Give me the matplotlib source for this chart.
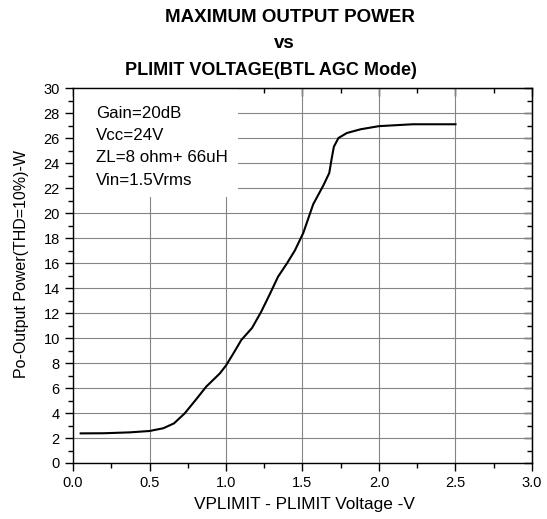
import matplotlib.pyplot as plt
from matplotlib.ticker import MultipleLocator
from matplotlib.patches import Rectangle

plt.rcParams['font.family'] = ['Liberation Sans', 'DejaVu Sans']

# PLIMIT voltage (V) and output power (W)
vplimit = [0.05, 0.20, 0.37, 0.50, 0.59, 0.66, 0.73, 0.81, 0.87, 0.96, 1.00,
           1.05, 1.10, 1.17, 1.23, 1.29, 1.34, 1.40, 1.45, 1.505, 1.57, 1.636,
           1.675, 1.69, 1.705, 1.735, 1.79, 1.88, 2.00, 2.22, 2.50]
power = [2.37, 2.38, 2.45, 2.56, 2.78, 3.17, 3.97, 5.17, 6.10, 7.17, 7.80,
         8.80, 9.84, 10.8, 12.1, 13.6, 14.9, 16.0, 17.0, 18.4, 20.7, 22.2,
         23.2, 24.3, 25.3, 26.0, 26.4, 26.7, 26.95, 27.1, 27.1]

info_lines = ['Gain=20dB', 'Vcc=24V', 'ZL=8 ohm+ 66uH', 'Vin=1.5Vrms']

fig = plt.figure(figsize=(5.47, 5.19), dpi=100)
ax = fig.add_axes([0.1335, 0.1079, 0.839, 0.7225])

ax.plot(vplimit, power, color='black', linewidth=1.5, zorder=3)

ax.set_xlim(0, 3.0)
ax.set_ylim(0, 30)
ax.xaxis.set_major_locator(MultipleLocator(0.5))
ax.xaxis.set_minor_locator(MultipleLocator(0.25))
ax.yaxis.set_major_locator(MultipleLocator(2))
ax.yaxis.set_minor_locator(MultipleLocator(1))
ax.xaxis.set_major_formatter(plt.FuncFormatter(lambda v, p: '%.1f' % v))
ax.grid(True, which='major', color='#858585', linewidth=0.8, zorder=0)
ax.set_axisbelow(True)

ax.tick_params(which='both', direction='out', labelsize=10.5, width=1)
ax.tick_params(which='major', length=6)
ax.tick_params(which='minor', length=3.5)
for s in ax.spines.values():
    s.set_linewidth(1.0)

# mirrored inward ticks on top and right
sec_x = ax.secondary_xaxis('top')
sec_x.xaxis.set_major_locator(MultipleLocator(0.5))
sec_x.xaxis.set_minor_locator(MultipleLocator(0.25))
sec_x.tick_params(which='both', direction='in', labeltop=False, width=1)
sec_x.tick_params(which='major', length=6)
sec_x.tick_params(which='minor', length=3.5)
sec_y = ax.secondary_yaxis('right')
sec_y.yaxis.set_major_locator(MultipleLocator(2))
sec_y.yaxis.set_minor_locator(MultipleLocator(1))
sec_y.tick_params(which='both', direction='in', labelright=False, width=1)
sec_y.tick_params(which='major', length=6)
sec_y.tick_params(which='minor', length=3.5)

# white box behind the conditions text
ax.add_patch(Rectangle((0.002, 0.709), 0.358, 0.289, transform=ax.transAxes,
                       facecolor='white', edgecolor='none', zorder=2))
for i, line in enumerate(info_lines):
    ax.text(0.050, 0.933 - i * 0.0595, line, transform=ax.transAxes,
            fontsize=12.2, va='center', ha='left', zorder=4)

fig.text(304 / 547, 1 - 505 / 519, 'VPLIMIT - PLIMIT Voltage -V',
         fontsize=12.4, ha='center', va='center')
fig.text(22 / 547, 1 - 264 / 519, 'Po-Output Power(THD=10%)-W',
         fontsize=11.5, ha='center', va='center', rotation=90)

fig.text(0.530, 0.967, 'MAXIMUM OUTPUT POWER', ha='center', va='center',
         fontsize=13.5, fontweight='bold')
fig.text(0.519, 0.917, 'vs', ha='center', va='center',
         fontsize=13.5, fontweight='bold')
fig.text(0.495, 0.865, 'PLIMIT VOLTAGE(BTL AGC Mode)', ha='center', va='center',
         fontsize=13, fontweight='bold')

fig.savefig('out.png', dpi=100)
